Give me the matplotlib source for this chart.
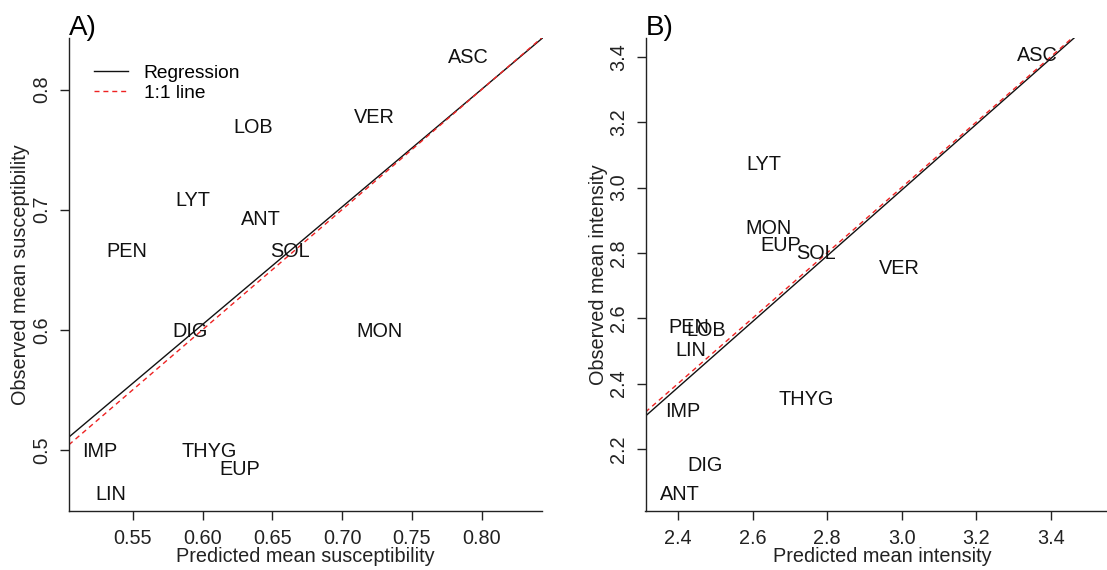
import matplotlib
matplotlib.use("Agg")
import matplotlib.pyplot as plt

plt.rcParams['font.family'] = ['Liberation Sans', 'DejaVu Sans']

# ---------------- data ----------------
species_a = ['ASC', 'VER', 'LOB', 'LYT', 'ANT', 'PEN', 'SOL', 'DIG', 'MON', 'IMP', 'THYG', 'EUP', 'LIN']
pred_susc = [0.7904, 0.7230, 0.6363, 0.5932, 0.6419, 0.5459, 0.6629, 0.5912, 0.7269, 0.5262, 0.6048, 0.6265, 0.5343]
obs_susc = [0.8266, 0.7770, 0.7680, 0.7076, 0.6918, 0.6655, 0.6655, 0.5987, 0.5987, 0.4985, 0.4985, 0.4834, 0.4625]
reg_a_intercept, reg_a_slope = 0.0170, 0.979

species_b = ['ASC', 'LYT', 'MON', 'EUP', 'SOL', 'VER', 'PEN', 'LOB', 'LIN', 'THYG', 'IMP', 'DIG', 'ANT']
pred_int = [3.364, 2.6308, 2.642, 2.6757, 2.7709, 2.9948, 2.4277, 2.4755, 2.4343, 2.7443, 2.4134, 2.4726, 2.4057]
obs_int = [3.405, 3.072, 2.8745, 2.824, 2.7967, 2.752, 2.572, 2.561, 2.500, 2.352, 2.3134, 2.150, 2.0615]
reg_b_intercept, reg_b_slope = -0.026, 1.006

xticks_a = [0.55, 0.60, 0.65, 0.70, 0.75, 0.80]
yticks_a = [0.5, 0.6, 0.7, 0.8]
xticks_b = [2.4, 2.6, 2.8, 3.0, 3.2, 3.4]
yticks_b = [2.2, 2.4, 2.6, 2.8, 3.0, 3.2, 3.4]

W, H = 1107, 570
fig = plt.figure(figsize=(W / 100, H / 100), dpi=100)

def px_axes(left, top, right, bottom):
    return fig.add_axes([left / W, 1 - bottom / H, (right - left) / W, (bottom - top) / H])

axA = px_axes(68.8, 38.0, 542.5, 510.7)
axB = px_axes(645.5, 38.0, 645.5 + 473.7, 510.7)

FS = 14.3

def style(ax, xt, yt, xfmt, yfmt):
    for s in ['top', 'right']:
        ax.spines[s].set_visible(False)
    for s in ['left', 'bottom']:
        ax.spines[s].set_linewidth(1.0)
        ax.spines[s].set_color('#222222')
    ax.set_xticks(xt)
    ax.set_yticks(yt)
    ax.set_xticklabels([xfmt.format(v) for v in xt])
    ax.set_yticklabels([yfmt.format(v) for v in yt], rotation=90, va='center')
    ax.tick_params(axis='both', length=6.5, width=1.0, color='#222222', labelsize=FS, labelcolor='#222222')
    ax.tick_params(axis='x', pad=6.5)
    ax.tick_params(axis='y', pad=6.0)

# ---------------- panel A ----------------
axA.set_xlim(0.5042, 0.8436)
axA.set_ylim(0.4494, 0.8429)
for name, x, y in zip(species_a, pred_susc, obs_susc):
    axA.text(x, y, name, ha='center', va='center', fontsize=FS, color='#111111')
axA.axline((0, reg_a_intercept), slope=reg_a_slope, color='#111111', lw=1.0, label='Regression')
axA.axline((0, 0), slope=1, color='#ee2222', lw=1.0, ls=(0, (3.6, 2.8)), label='1:1 line')
style(axA, xticks_a, yticks_a, '{:.2f}', '{:.1f}')
axA.set_xlabel('Predicted mean susceptibility', fontsize=FS, color='#222222')
axA.set_ylabel('Observed mean susceptibility', fontsize=FS, color='#222222')
axA.xaxis.set_label_coords(0.5, -(556 - 510.7) / 472.7)
axA.xaxis.label.set_va('center')
axA.yaxis.set_label_coords(-(68.8 - 21) / 473.7, 0.5)
axA.yaxis.label.set_va('center')
axA.text(0.0, (510.7 - 35) / 472.7, 'A)', transform=axA.transAxes, fontsize=20, ha='left', va='baseline')
leg = axA.legend(loc='upper left', bbox_to_anchor=((94 - 68.8) / 473.7, 1 - (64.5 - 38) / 472.7),
                 frameon=False, fontsize=13.8, handlelength=1.75, handletextpad=0.85,
                 labelspacing=0.14, borderpad=0, borderaxespad=0)

# ---------------- panel B ----------------
axB.set_xlim(2.3128, 3.584)
axB.set_ylim(2.011, 3.4577)
for name, x, y in zip(species_b, pred_int, obs_int):
    axB.text(x, y, name, ha='center', va='center', fontsize=FS, color='#111111')
axB.axline((0, reg_b_intercept), slope=reg_b_slope, color='#111111', lw=1.0)
axB.axline((0, 0), slope=1, color='#ee2222', lw=1.0, ls=(0, (3.6, 2.8)))
style(axB, xticks_b, yticks_b, '{:.1f}', '{:.1f}')
axB.set_xlabel('Predicted mean intensity', fontsize=FS, color='#222222')
axB.set_ylabel('Observed mean intensity', fontsize=FS, color='#222222')
axB.xaxis.set_label_coords(0.5, -(556 - 510.7) / 472.7)
axB.xaxis.label.set_va('center')
axB.yaxis.set_label_coords(-(645.5 - 598) / 473.7, 0.5)
axB.yaxis.label.set_va('center')
axB.text(0.0, (510.7 - 35) / 472.7, 'B)', transform=axB.transAxes, fontsize=20, ha='left', va='baseline')

fig.savefig('out.png', dpi=100)
